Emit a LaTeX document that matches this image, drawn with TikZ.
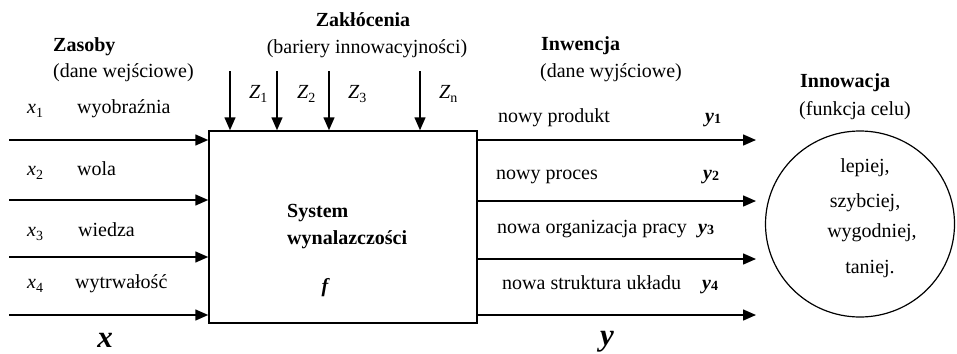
\documentclass[tikz,border=0pt]{standalone}
\usepackage{fontspec}
\setmainfont{Liberation Serif}
\usetikzlibrary{arrows.meta,shapes.geometric}
\newcommand\lsub[1]{\raisebox{-0.22em}{\fontsize{14}{14}\selectfont #1}}
\newcommand\bsub[1]{\raisebox{-0.08em}{\fontsize{14}{14}\selectfont\bfseries #1}}
\begin{document}
\begin{tikzpicture}[x=1pt,y=-1pt,font=\fontsize{20}{24}\selectfont,
  arr/.style={line width=1.5pt,-{Triangle[length=13pt,width=11pt]}},
  txt/.style={anchor=base west,inner sep=0pt},
  ctxt/.style={anchor=base,inner sep=0pt},
  big/.style={anchor=base,inner sep=0pt,font=\fontsize{31}{31}\selectfont\bfseries\itshape}]
\useasboundingbox (0,0) rectangle (957,353);
% main box
\node[draw,line width=1.5pt,minimum width=268pt,minimum height=192pt,inner sep=0pt] (sys) at (343,227) {};
\node[txt,font=\fontsize{20}{24}\selectfont\bfseries] (sys1) at (287,217) {System};
\node[txt,font=\fontsize{20}{24}\selectfont\bfseries] (sys2) at (287,244) {wynalazczości};
\node[ctxt,font=\fontsize{20}{24}\selectfont\bfseries\itshape] (f) at (325,292) {f};
% goal ellipse
\node[draw,ellipse,line width=1.2pt,minimum width=189pt,minimum height=186pt,inner sep=0pt] (goal) at (860,224) {};
\node[ctxt] (g1) at (865,172) {lepiej,};
\node[ctxt] (g2) at (865,207) {szybciej,};
\node[ctxt] (g3) at (872,237) {wygodniej,};
\node[ctxt] (g4) at (870,273) {taniej.};
% headings
\node[txt,font=\fontsize{20}{24}\selectfont\bfseries] (h1) at (53,52) {Zasoby};
\node[txt] (h1b) at (53,77) {(dane wejściowe)};
\node[ctxt,font=\fontsize{20}{24}\selectfont\bfseries] (h2) at (363,27) {Zakłócenia};
\node[ctxt] (h2b) at (367,53) {(bariery innowacyjności)};
\node[txt,font=\fontsize{20}{24}\selectfont\bfseries] (h3) at (541,50) {Inwencja};
\node[txt] (h3b) at (540,77) {(dane wyjściowe)};
\node[txt,font=\fontsize{20}{24}\selectfont\bfseries] (h4) at (800,87) {Innowacja};
\node[txt] (h4b) at (799,115) {(funkcja celu)};
% inputs
\coordinate (i1) at (9,140);
\coordinate (i2) at (9,200);
\coordinate (i3) at (9,257);
\coordinate (i4) at (9,315);
\foreach \c in {i1,i2,i3,i4} \draw[arr] (\c) -- (sys.west |- \c);
\node[txt] (x1) at (27,113) {\textit{x}\lsub{1}};
\node[txt] (x2) at (27,175) {\textit{x}\lsub{2}};
\node[txt] (x3) at (27,236) {\textit{x}\lsub{3}};
\node[txt] (x4) at (27,288) {\textit{x}\lsub{4}};
\node[txt] (w1) at (77,113) {wyobraźnia};
\node[txt] (w2) at (77,175) {wola};
\node[txt] (w3) at (78,236) {wiedza};
\node[txt] (w4) at (75,288) {wytrwałość};
\node[big] (xx) at (105,347) {x};
% disturbances
\coordinate (z1) at (230,71);
\coordinate (z2) at (277,71);
\coordinate (z3) at (329,71);
\coordinate (z4) at (420,71);
\foreach \c in {z1,z2,z3,z4} \draw[arr] (\c) -- (\c |- sys.north);
\node[txt] (zl1) at (249,98) {\textit{Z}\lsub{1}};
\node[txt] (zl2) at (297,98) {\textit{Z}\lsub{2}};
\node[txt] (zl3) at (348,98) {\textit{Z}\lsub{3}};
\node[txt] (zl4) at (439,98) {\textit{Z}\lsub{n}};
% outputs
\coordinate (o1) at (756,140);
\coordinate (o2) at (756,201);
\coordinate (o3) at (756,259);
\coordinate (o4) at (756,315);
\foreach \c in {o1,o2,o3,o4} \draw[arr] (sys.east |- \c) -- (\c);
\node[txt] (p1) at (498,122) {nowy produkt};
\node[txt] (p2) at (496,179) {nowy proces};
\node[txt] (p3) at (497,233) {nowa organizacja pracy};
\node[txt] (p4) at (502,289) {nowa struktura układu};
\node[txt] (y1) at (705,122) {\textbf{\textit{y}}\bsub{1}};
\node[txt] (y2) at (703,179) {\textbf{\textit{y}}\bsub{2}};
\node[txt] (y3) at (698,233) {\textbf{\textit{y}}\bsub{3}};
\node[txt] (y4) at (702,289) {\textbf{\textit{y}}\bsub{4}};
\node[big] (yy) at (607,345) {y};
\end{tikzpicture}
\end{document}
